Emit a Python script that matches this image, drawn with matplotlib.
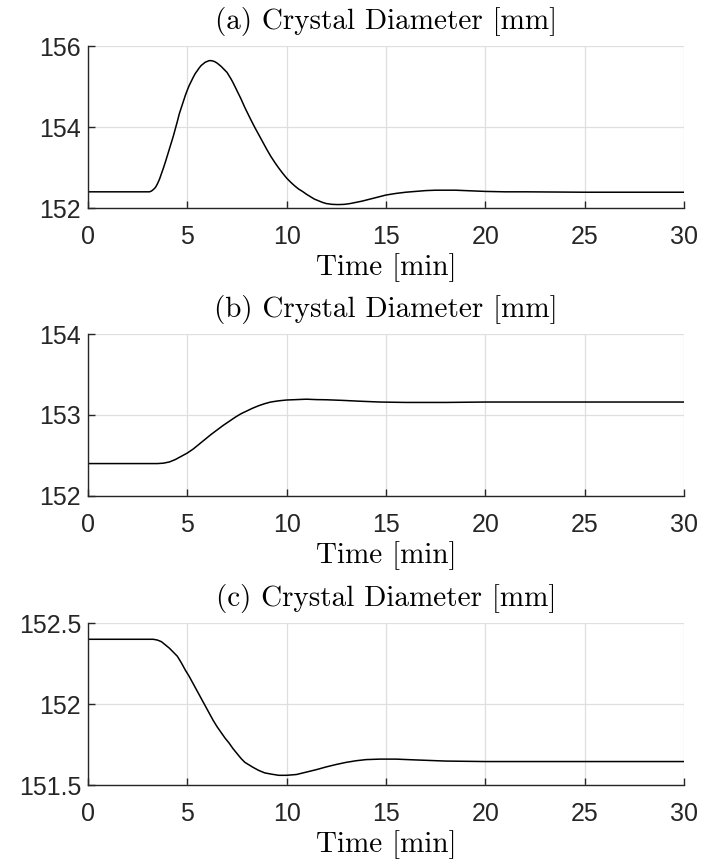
import matplotlib
matplotlib.use('Agg')
import matplotlib.pyplot as plt

# panel (a): diameter response, large overshoot
time_a = [0, 3.0, 3.1, 3.2, 3.3, 3.4, 3.5, 3.6, 3.7, 3.8, 3.9, 4.0, 4.1, 4.2, 4.3,
          4.4, 4.5, 4.6, 4.7, 4.8, 4.9, 5.0, 5.1, 5.2, 5.3, 5.4, 5.5, 5.6, 5.7, 5.8,
          5.9, 6.0, 6.1, 6.2, 6.3, 6.4, 6.5, 6.6, 6.7, 6.8, 6.9, 7.0, 7.1, 7.2, 7.3,
          7.4, 7.5, 7.6, 7.7, 7.8, 7.9, 8.0, 8.2, 8.4, 8.6, 8.8, 9.0, 9.2, 9.4, 9.6,
          9.8, 10.0, 10.2, 10.4, 10.6, 10.8, 11.0, 11.2, 11.4, 11.6, 11.8, 12.0,
          12.3, 12.6, 12.9, 13.2, 13.5, 13.8, 14.2, 14.6, 15.0, 15.5, 16.0, 16.5,
          17.0, 17.5, 18.0, 18.5, 19.0, 20.0, 21.0, 22.0, 25.0, 30.0]
diam_a = [152.40, 152.40, 152.40, 152.42, 152.46, 152.51, 152.60, 152.71, 152.85,
          152.99, 153.14, 153.30, 153.46, 153.62, 153.78, 153.96, 154.14, 154.33,
          154.48, 154.63, 154.78, 154.91, 155.03, 155.13, 155.23, 155.32, 155.39,
          155.46, 155.52, 155.56, 155.60, 155.62, 155.64, 155.64, 155.63, 155.61,
          155.58, 155.54, 155.50, 155.45, 155.40, 155.35, 155.27, 155.19, 155.10,
          155.00, 154.90, 154.80, 154.70, 154.59, 154.48, 154.38, 154.18, 153.99,
          153.81, 153.63, 153.45, 153.28, 153.13, 152.99, 152.86, 152.74, 152.64,
          152.55, 152.47, 152.41, 152.34, 152.28, 152.22, 152.18, 152.14, 152.11,
          152.09, 152.085, 152.09, 152.11, 152.14, 152.17, 152.22, 152.27, 152.32,
          152.36, 152.39, 152.41, 152.43, 152.44, 152.44, 152.44, 152.43, 152.41,
          152.40, 152.40, 152.39, 152.39]

# panel (b): step up
time_b = [0, 3.5, 3.8, 4.1, 4.4, 4.7, 5.0, 5.3, 5.6, 5.9, 6.2, 6.5, 6.8, 7.1, 7.4,
          7.7, 8.0, 8.3, 8.6, 8.9, 9.2, 9.6, 10.0, 10.5, 11.0, 11.5, 12.0, 12.85,
          13.7, 14.7, 16.0, 18.0, 20.0, 30.0]
diam_b = [152.40, 152.40, 152.405, 152.42, 152.45, 152.49, 152.53, 152.58, 152.64,
          152.70, 152.76, 152.815, 152.87, 152.92, 152.97, 153.015, 153.05, 153.085,
          153.115, 153.14, 153.16, 153.175, 153.185, 153.19, 153.195, 153.19,
          153.188, 153.18, 153.17, 153.16, 153.155, 153.155, 153.16, 153.16]

# panel (c): step down
time_c = [0, 3.29, 3.5, 3.7, 3.9, 4.1, 4.3, 4.5, 4.7, 4.9, 5.1, 5.3, 5.5, 5.7, 5.9,
          6.1, 6.3, 6.5, 6.7, 6.9, 7.1, 7.3, 7.5, 7.7, 7.9, 8.1, 8.3, 8.6, 8.9, 9.2,
          9.6, 10.0, 10.5, 11.0, 11.5, 12.0, 12.5, 13.0, 13.5, 14.0, 14.7, 15.5,
          16.5, 18.0, 20.0, 30.0]
diam_c = [152.40, 152.40, 152.395, 152.385, 152.365, 152.345, 152.32, 152.295,
          152.255, 152.21, 152.17, 152.125, 152.08, 152.035, 151.99, 151.945, 151.90,
          151.86, 151.825, 151.79, 151.76, 151.725, 151.695, 151.665, 151.64,
          151.625, 151.61, 151.59, 151.575, 151.568, 151.56, 151.56, 151.565,
          151.58, 151.595, 151.612, 151.627, 151.64, 151.65, 151.657, 151.66,
          151.66, 151.655, 151.648, 151.645, 151.645]

titles = ['(a) Crystal Diameter [mm]', '(b) Crystal Diameter [mm]',
          '(c) Crystal Diameter [mm]']
yticks = [[152, 154, 156], [152, 153, 154], [151.5, 152, 152.5]]
yticklabels = [['152', '154', '156'], ['152', '153', '154'],
               ['151.5', '152', '152.5']]
xticks = [0, 5, 10, 15, 20, 25, 30]

plt.rcParams['font.family'] = ['Liberation Sans', 'DejaVu Sans']

fig = plt.figure(figsize=(7.01, 8.66), dpi=100)
bottoms = [0.7598, 0.4273, 0.0935]
series = [(time_a, diam_a), (time_b, diam_b), (time_c, diam_c)]

for i, (t, d) in enumerate(series):
    ax = fig.add_axes([0.1255, bottoms[i], 0.850, 0.187])
    ax.plot(t, d, color='black', linewidth=1.1)
    ax.set_xlim(0, 30)
    ax.set_ylim(yticks[i][0], yticks[i][-1])
    ax.set_xticks(xticks)
    ax.set_xticklabels([str(x) for x in xticks])
    ax.set_yticks(yticks[i])
    ax.set_yticklabels(yticklabels[i])
    ax.grid(True, color='#dfdfdf', linewidth=0.9)
    ax.set_axisbelow(True)
    for side in ['top', 'right']:
        ax.spines[side].set_visible(False)
    for side in ['left', 'bottom']:
        ax.spines[side].set_color('#262626')
        ax.spines[side].set_linewidth(1.0)
    ax.tick_params(direction='in', length=5, width=1.0, color='#262626',
                   labelcolor='#262626', labelsize=18)
    ax.tick_params(axis='x', pad=12)
    ax.tick_params(axis='y', pad=5)
    ax.set_title(titles[i], family='cmr10', fontsize=21, pad=12)
    ax.set_xlabel('Time [min]', family='cmr10', fontsize=21, labelpad=3)

fig.savefig('out.png', dpi=100)
